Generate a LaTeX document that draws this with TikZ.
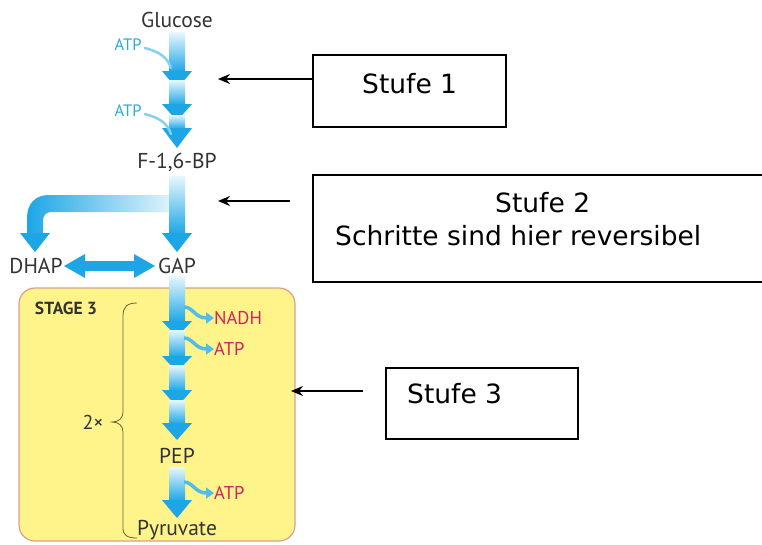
\documentclass[tikz,border=0pt]{standalone}
\usepackage{fontspec}
\setmainfont{PT Sans}
\newfontfamily\notefont{DejaVu Sans}
\usetikzlibrary{arrows.meta}

\definecolor{flowblue}{HTML}{1CA6E6}
\definecolor{flowpale}{HTML}{E8F7FD}
\definecolor{flowmid}{HTML}{52BDEB}
\definecolor{cofactor}{HTML}{2EA9D9}
\definecolor{yieldred}{HTML}{D0245E}
\definecolor{labelgray}{HTML}{333333}
\definecolor{stagefill}{HTML}{FFF48A}
\definecolor{stageedge}{HTML}{D9A08C}
\definecolor{braceline}{HTML}{6E6236}

% one step of the pathway: shaded shaft plus solid head
% #1 x centre, #2 shaft top, #3 head base, #4 tip
\newcommand\flowstep[4]{%
  \shade[top color=flowpale, bottom color=flowblue]
    ({#1-8},#2) rectangle ({#1+8},{#3+1});
  \fill[flowblue] ({#1-15},#3) -- ({#1+15},#3) -- (#1,#4) -- cycle;}

\tikzset{
  metab/.style={font=\fontsize{21.5}{24}\selectfont, text=labelgray, inner sep=0pt},
  cofac/.style={font=\fontsize{16.5}{18}\selectfont, text=cofactor, inner sep=0pt},
  yield/.style={font=\fontsize{18.5}{20}\selectfont, text=yieldred, inner sep=0pt, anchor=west},
  notebox/.style={draw=black, line width=1.3pt, fill=white},
  notetext/.style={font=\notefont\fontsize{26.5}{33}\selectfont, text=black, inner sep=0pt, anchor=base west},
  pointer/.style={draw=black, line width=1.4pt, -{Stealth[length=12pt,width=10pt]}},
  sidearrow/.style={draw=flowmid, line width=3.5pt, -{Triangle[length=8pt,width=11pt]}},
  feedcurve/.style={draw=flowmid!70, line width=2.5pt, line cap=round},
}

\begin{document}
\begin{tikzpicture}[x=1pt,y=-1pt]
\useasboundingbox (0,0) rectangle (762,544);
\fill[white] (0,0) rectangle (762,544);

% stage 3 panel
\draw[stageedge, line width=1.2pt, fill=stagefill, rounded corners=16pt]
  (19,288) rectangle (295,541);

% ---- stage 1: glucose to F-1,6-BP
\node[metab] (glc) at (177,20) {Glucose};
\node[cofac] (atpa) at (128,45) {ATP};
\node[cofac] (atpb) at (128,111) {ATP};
\flowstep{177}{32}{71}{89}
\flowstep{177}{80}{104}{121}
\flowstep{177}{115}{128}{148}
\draw[feedcurve] (atpa.east) ++(3,3) .. controls (160,52) and (167,57) .. (171,68);
\draw[feedcurve] (atpb.east) ++(3,3) .. controls (160,118) and (167,123) .. (171,134);
\node[metab] (fbp) at (177,162) {F-1,6-BP};

% ---- stage 2: split and isomerisation
\shade[left color=flowblue, right color=flowpale]
  (177,195) -- (49,195) .. controls (35,195) and (27,204) .. (27,218)
  -- (27,234) -- (43,234) -- (43,221) .. controls (43,215) and (46,212) .. (52,212)
  -- (177,212) -- cycle;
\fill[flowblue] (20,233) -- (50,233) -- (35,252) -- cycle;
\shade[top color=flowpale, bottom color=flowblue] (169,176) rectangle (185,234);
\fill[flowblue] (162,233) -- (192,233) -- (177,252) -- cycle;
\node[metab] (dhap) at (36,266) {DHAP};
\node[metab] (gap) at (177,266) {GAP};
\fill[flowblue] (64,266) -- (85,254) -- (85,261) -- (134,261) -- (134,254)
  -- (155,266) -- (134,278) -- (134,271) -- (85,271) -- (85,278) -- cycle;

% ---- stage 3: GAP to pyruvate
\node[font=\bfseries\fontsize{17.5}{18}\selectfont, text=labelgray, inner sep=0pt]
  (stage) at (66,308) {STAGE 3};
\flowstep{177}{276}{321}{337}
\flowstep{177}{330}{356}{372}
\flowstep{177}{365}{390}{407}
\flowstep{177}{400}{423}{440}
\node[metab] (pep) at (177,456) {PEP};
\flowstep{177}{467}{500}{518}
\node[metab] (pyr) at (177,530) {Pyruvate};

\node[yield] (nadh) at (214,318) {NADH};
\node[yield] (atpc) at (214,349) {ATP};
\node[yield] (atpd) at (214,493) {ATP};
\draw[sidearrow] (184,307) .. controls (193,307) and (195,318) .. (nadh.west);
\draw[sidearrow] (184,338) .. controls (193,338) and (195,349) .. (atpc.west);
\draw[sidearrow] (184,482) .. controls (193,482) and (195,493) .. (atpd.west);

% brace over the doubled part
\draw[braceline, line width=0.8pt]
  (137,303) .. controls (127,303) and (123,307) .. (123,316) -- (123,412)
  .. controls (123,418) and (119,422) .. (112,422)
  .. controls (119,422) and (123,426) .. (123,432) -- (123,528)
  .. controls (123,535) and (127,538) .. (137,538);
\node[font=\fontsize{20}{22}\selectfont, text=labelgray, inner sep=0pt] (twice) at (93,422) {2×};

% ---- annotation boxes
\node[notebox, minimum width=193pt, minimum height=72pt] (box1) at (409.5,91) {};
\node[notetext] (lab1) at (362,93) {Stufe 1};
\coordinate (p1) at (218,79);
\draw[pointer] (box1.west |- p1) -- (p1);

\node[notebox, minimum width=460pt, minimum height=107pt] (box2) at (543,228.5) {};
\node[notetext] (lab2a) at (495,212) {Stufe 2};
\node[notetext] (lab2b) at (335,245) {Schritte sind hier reversibel};
\coordinate (p2a) at (290,201);
\coordinate (p2b) at (218,201);
\draw[pointer] (p2a) -- (p2b);

\node[notebox, minimum width=192pt, minimum height=71pt] (box3) at (482,403.5) {};
\node[notetext] (lab3) at (407,403) {Stufe 3};
\coordinate (p3a) at (363,391);
\coordinate (p3b) at (291,391);
\draw[pointer] (p3a) -- (p3b);
\end{tikzpicture}
\end{document}
